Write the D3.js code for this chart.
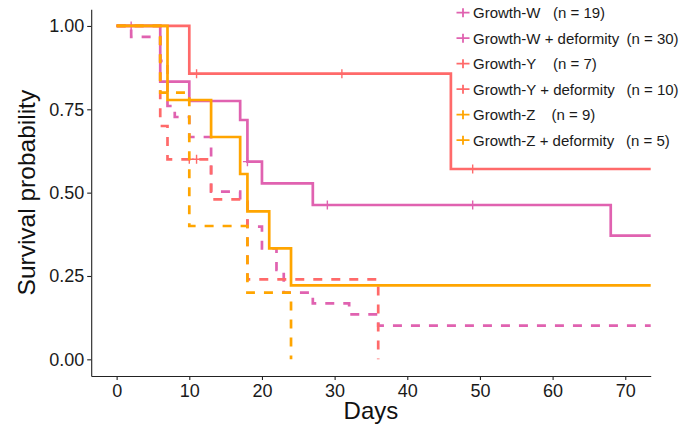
<!DOCTYPE html>
<html>
<head>
<meta charset="utf-8">
<script src="https://cdn.jsdelivr.net/npm/d3@7"></script>
<style>
  html, body { margin: 0; padding: 0; background: #fff; }
  svg { display: block; font-family: "Liberation Sans", Arial, sans-serif; }
</style>
</head>
<body>
<svg id="chart" width="691" height="426"></svg>
<script>
// ---- data ----
const seriesNames = ["Growth-W", "Growth-W + deformity", "Growth-Y", "Growth-Y + deformity", "Growth-Z", "Growth-Z + deformity"];
const seriesN = [19, 30, 7, 10, 9, 5];
const seriesColors = ["#E062B0", "#E062B0", "#FF6A6A", "#FF6A6A", "#FFA500", "#FFA500"];
const seriesDashed = [false, true, false, true, false, true];

const wTimes  = [0, 6, 10, 17, 18, 20, 27, 68];
const wSurv   = [1, 0.833, 0.775, 0.718, 0.593, 0.528, 0.463, 0.371];
const wCensT  = [7, 18, 29, 49];
const wCensS  = [0.833, 0.593, 0.463, 0.463];

const wdTimes = [0, 2, 6, 7, 8, 10, 13, 17, 18, 20, 22, 23, 27, 32, 36];
const wdSurv  = [1, 0.967, 0.895, 0.76, 0.727, 0.667, 0.503, 0.473, 0.398, 0.333, 0.268, 0.2, 0.168, 0.135, 0.101];
const wdCensT = [2];
const wdCensS = [1];

const yTimes  = [0, 10, 46];
const ySurv   = [1, 0.857, 0.571];
const yCensT  = [11, 31, 49];
const yCensS  = [0.857, 0.857, 0.571];

const ydTimes = [0, 6, 7, 13, 18, 36];
const ydSurv  = [1, 0.7, 0.6, 0.48, 0.24, 0];
const ydCensT = [10, 11];
const ydCensS = [0.6, 0.6];

const zTimes  = [0, 7, 13, 17, 18, 21, 24];
const zSurv   = [1, 0.778, 0.667, 0.556, 0.444, 0.333, 0.222];
const zCensT  = [];
const zCensS  = [];

const zdTimes = [0, 6, 10, 18, 24];
const zdSurv  = [1, 0.8, 0.4, 0.2, 0];
const zdCensT = [];
const zdCensS = [];

const lastFollowUp = 73.5;
const xTicks = [0, 10, 20, 30, 40, 50, 60, 70];
const yTicks = [0, 0.25, 0.5, 0.75, 1];
const yTickLabels = ["0.00", "0.25", "0.50", "0.75", "1.00"];

const allTimes = [wTimes, wdTimes, yTimes, ydTimes, zTimes, zdTimes];
const allSurv  = [wSurv, wdSurv, ySurv, ydSurv, zSurv, zdSurv];
const allCensT = [wCensT, wdCensT, yCensT, ydCensT, zCensT, zdCensT];
const allCensS = [wCensS, wdCensS, yCensS, ydCensS, zCensS, zdCensS];

// ---- layout ----
const svg = d3.select("#chart");
const x = d3.scaleLinear().domain([-3.5, 73.5]).range([91.2, 650.7]);
const y = d3.scaleLinear().domain([-0.05, 1.05]).range([376, 9.3]);

const series = seriesNames.map((name, i) => {
  const t = allTimes[i], s = allSurv[i];
  const pts = t.map((d, j) => [d, s[j]]);
  if (s[s.length - 1] > 0) pts.push([lastFollowUp, s[s.length - 1]]);
  return {name, n: seriesN[i], color: seriesColors[i], dashed: seriesDashed[i], pts,
          cens: allCensT[i].map((c, j) => [c, allCensS[i][j]])};
});

const line = d3.line().x(d => x(d[0])).y(d => y(d[1])).curve(d3.curveStepAfter);

const gCurves = svg.append("g");
series.forEach(s => {
  gCurves.append("path")
    .attr("d", line(s.pts))
    .attr("fill", "none")
    .attr("stroke", s.color)
    .attr("stroke-width", 2.7)
    .attr("stroke-dasharray", s.dashed ? "9,9" : null);
  gCurves.selectAll(null).data(s.cens).enter().append("path")
    .attr("d", d => `M${x(d[0]) - 4.5},${y(d[1])}H${x(d[0]) + 4.5}M${x(d[0])},${y(d[1]) - 4.5}V${y(d[1]) + 4.5}`)
    .attr("stroke", s.color)
    .attr("stroke-width", 1.4);
});

// axes
const axisColor = "#222";
const xAxis = svg.append("g").attr("transform", `translate(0,${y.range()[0]})`)
  .call(d3.axisBottom(x).tickValues(xTicks).tickSize(4).tickSizeOuter(0).tickPadding(4));
const yAxis = svg.append("g").attr("transform", `translate(${x.range()[0]},0)`)
  .call(d3.axisLeft(y).tickValues(yTicks).tickFormat((d, i) => yTickLabels[i]).tickSize(4).tickSizeOuter(0).tickPadding(3));
[xAxis, yAxis].forEach(g => {
  g.select(".domain").attr("stroke", axisColor).attr("stroke-width", 1.1);
  g.selectAll(".tick line").attr("stroke", axisColor).attr("stroke-width", 1.1);
  g.selectAll(".tick text").attr("fill", "#1a1a1a").attr("font-size", 18)
    .attr("font-family", "Liberation Sans, Arial, sans-serif");
});

svg.append("text").attr("x", (x(-3.5) + x(73.5)) / 2).attr("y", 419)
  .attr("text-anchor", "middle").attr("font-size", 24).attr("fill", "#111").text("Days");
svg.append("text").attr("transform", `translate(35,${(y(-0.05) + y(1.05)) / 2}) rotate(-90)`)
  .attr("text-anchor", "middle").attr("font-size", 24.5).attr("fill", "#111").text("Survival probability");

// legend
const legend = svg.append("g");
const nX = [553, 626.5, 553, 626.5, 551.5, 626];
series.forEach((s, i) => {
  const cy = 12.7 + i * 25.5;
  const g = legend.append("g");
  g.append("path").attr("d", `M456.5,${cy}H469.5M463,${cy - 4.5}V${cy + 4.5}`)
    .attr("stroke", s.color).attr("stroke-width", 1.8);
  g.append("text").attr("x", 473).attr("y", cy + 5.3).attr("font-size", 15).attr("fill", "#1a1a1a").text(s.name);
  g.append("text").attr("x", nX[i]).attr("y", cy + 5.3).attr("font-size", 15).attr("fill", "#1a1a1a").text(`(n = ${s.n})`);
});
</script>
</body>
</html>
